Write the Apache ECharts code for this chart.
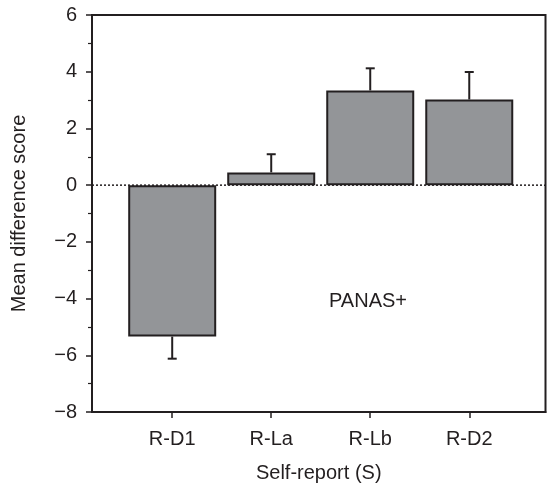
<!DOCTYPE html>
<html><head><meta charset="utf-8">
<script src="https://cdn.jsdelivr.net/npm/echarts@6/dist/echarts.min.js"></script>
<style>html,body{margin:0;padding:0;background:#fff}#c{width:548px;height:488px}</style>
</head><body><div id="c"></div>
<script>
var categories = ['R-D1', 'R-La', 'R-Lb', 'R-D2'];
var means = [-5.34, 0.45, 3.34, 3.02];
var errors = [0.78, 0.64, 0.78, 0.97];
var yTicks = [-8, -6, -4, -2, 0, 2, 4, 6];

var X_MIN = 0.19, X_MAX = 4.77;
var ink = '#231f20';
var font = 'Liberation Sans, Arial, sans-serif';

var barData = means.map(function (v, i) { return [i + 1, v]; });
var errData = means.map(function (v, i) { return [i + 1, v, errors[i]]; });

var chart = echarts.init(document.getElementById('c'), null, {renderer: 'canvas'});
chart.setOption({
  animation: false,
  grid: {left: 92, right: 2.5, top: 15, bottom: 75, show: true, borderColor: ink, borderWidth: 2, backgroundColor: 'transparent'},
  xAxis: {
    type: 'value', min: X_MIN, max: X_MAX,
    name: 'Self-report (S)', nameLocation: 'middle', nameGap: 51,
    nameTextStyle: {fontSize: 20, color: ink, fontFamily: font},
    axisLine: {show: true, onZero: false, lineStyle: {color: ink, width: 2}},
    axisTick: {show: true, length: 6, customValues: [1, 2, 3, 4], lineStyle: {color: ink, width: 1.5}},
    axisLabel: {customValues: [1, 2, 3, 4], fontSize: 20, color: ink, fontFamily: font, margin: 17,
      formatter: function (v) { return categories[Math.round(v) - 1] || ''; }},
    splitLine: {show: false}
  },
  yAxis: {
    type: 'value', min: yTicks[0], max: yTicks[yTicks.length - 1], interval: 2,
    name: 'Mean difference score', nameLocation: 'middle', nameGap: 63,
    nameTextStyle: {fontSize: 20, color: ink, fontFamily: font},
    axisLine: {show: true, lineStyle: {color: ink, width: 2}},
    axisTick: {show: true, length: 6, lineStyle: {color: ink, width: 1.5}},
    minorTick: {show: true, splitNumber: 2, length: 4, lineStyle: {color: ink, width: 1.2}},
    axisLabel: {fontSize: 20, color: ink, fontFamily: font, margin: 15,
      formatter: function (v) { return String(v).replace('-', '\u2212'); }},
    splitLine: {show: false}
  },
  series: [
    {
      type: 'line', z: 1, symbol: 'none', silent: true,
      data: [[X_MIN, 0], [X_MAX, 0]],
      lineStyle: {color: ink, width: 1.5, type: [2, 2]}
    },
    {
      type: 'bar', z: 2, barWidth: 88,
      data: barData,
      itemStyle: {color: '#939598', borderColor: ink, borderWidth: 2}
    },
    {
      type: 'custom', z: 3,
      data: errData,
      renderItem: function (params, api) {
        var x = api.value(0), m = api.value(1), e = api.value(2);
        var end = m >= 0 ? m + e : m - e;
        var p0 = api.coord([x, m]);
        var p1 = api.coord([x, end]);
        var style = {stroke: ink, lineWidth: 2};
        return {type: 'group', children: [
          {type: 'line', shape: {x1: p0[0], y1: p0[1], x2: p1[0], y2: p1[1]}, style: style},
          {type: 'line', shape: {x1: p1[0] - 4.5, y1: p1[1], x2: p1[0] + 4.5, y2: p1[1]}, style: style}
        ]};
      }
    }
  ],
  graphic: [
    {type: 'text', left: 329, top: 291, style: {text: 'PANAS+', fontSize: 20, fill: ink, fontFamily: font}}
  ]
});
</script></body></html>
